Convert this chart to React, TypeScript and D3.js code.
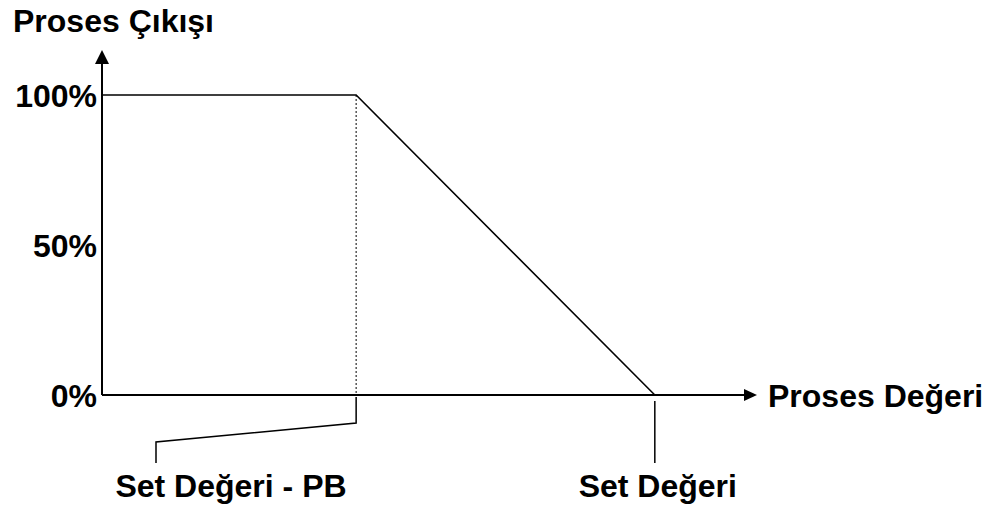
import React from "react";
import * as d3 from "d3";

// Proportional-band controller: output vs. process value
const processValues = [0, 38.8, 84.4];
const outputPercent = [100, 100, 0];
const yTicks = [0, 50, 100];
const yTickLabels = ["0%", "50%", "100%"];
const yAxisTitle = "Proses Çıkışı";
const xAxisTitle = "Proses Değeri";
const markerLabels = ["Set Değeri - PB", "Set Değeri"];

const W = 996;
const H = 509;
const FONT = "'Liberation Sans', Arial, Helvetica, sans-serif";
const FS = 32;

export default function App() {
  const x = d3.scaleLinear().domain([0, 100]).range([102, 757]);
  const y = d3.scaleLinear().domain([0, 100]).range([395, 95]);

  const pts: [number, number][] = processValues.map((v, i) => [v, outputPercent[i]]);
  const line = d3
    .line<[number, number]>()
    .x((d) => x(d[0]))
    .y((d) => y(d[1]));

  const x0 = x(0);
  const y0 = y(0);
  const xPB = x(processValues[1]);
  const xSet = x(processValues[2]);
  const xEnd = x.range()[1];

  const leaderPB = d3.line()([
    [xPB, y0 + 2],
    [xPB, 423],
    [156, 442],
    [156, 463],
  ]);

  return (
    <svg
      width={W}
      height={H}
      style={{ position: "absolute", left: 0, top: 0, background: "#fff" }}
      fontFamily={FONT}
      fontWeight="bold"
    >
      {/* Y axis with arrow */}
      <line x1={x0} y1={y0} x2={x0} y2={62} stroke="#000" strokeWidth={2} />
      <path d={`M${x0 - 7},${64} L${x0},${50} L${x0 + 7},${64} Z`} fill="#000" />

      {/* X axis with arrow */}
      <line x1={x0} y1={y0} x2={xEnd - 10} y2={y0} stroke="#000" strokeWidth={2} />
      <path d={`M${xEnd - 13},${y0 - 6} L${xEnd},${y0} L${xEnd - 13},${y0 + 6} Z`} fill="#000" />

      {/* Y tick labels */}
      {yTicks.map((t, i) => (
        <text
          key={t}
          x={97}
          y={y(t)}
          dy="0.36em"
          textAnchor="end"
          fontSize={FS}
          fill="#000"
        >
          {yTickLabels[i]}
        </text>
      ))}

      {/* Axis titles */}
      <text x={13} y={32} fontSize={FS} fill="#000">
        {yAxisTitle}
      </text>
      <text x={768} y={407} fontSize={FS} fill="#000">
        {xAxisTitle}
      </text>

      {/* Dotted guide at the band edge */}
      <line
        x1={xPB}
        y1={y(100)}
        x2={xPB}
        y2={y0}
        stroke="#000"
        strokeWidth={1}
        strokeDasharray="2,2"
      />

      {/* Output curve */}
      <path d={line(pts) || ""} fill="none" stroke="#000" strokeWidth={1.6} />

      {/* Leader lines */}
      <path d={leaderPB || ""} fill="none" stroke="#000" strokeWidth={1.5} />
      <line x1={xSet} y1={y0 + 6} x2={xSet} y2={463} stroke="#000" strokeWidth={1.5} />

      {/* Marker labels */}
      <text x={231} y={497} textAnchor="middle" fontSize={FS} fill="#000">
        {markerLabels[0]}
      </text>
      <text x={xSet + 3} y={497} textAnchor="middle" fontSize={FS} fill="#000">
        {markerLabels[1]}
      </text>
    </svg>
  );
}
